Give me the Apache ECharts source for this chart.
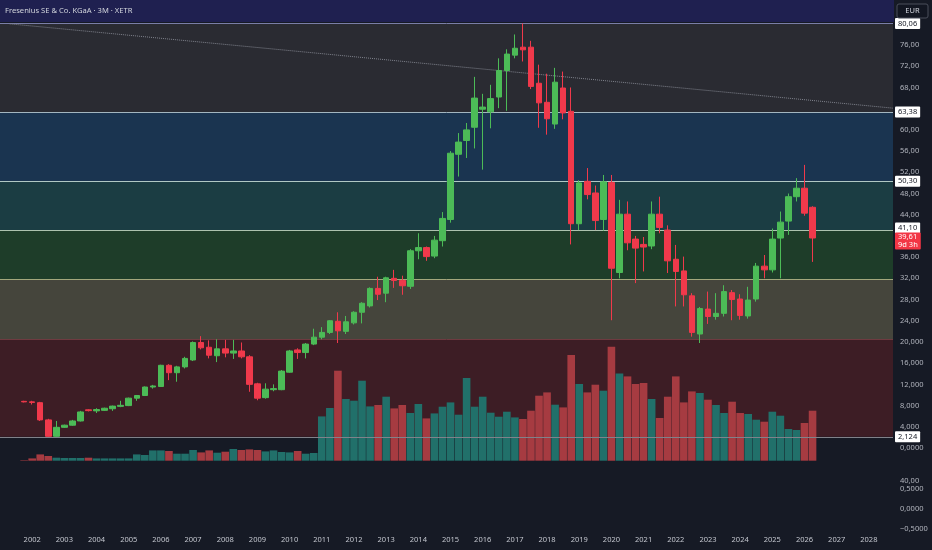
<!DOCTYPE html>
<html><head><meta charset="utf-8">
<script src="https://cdn.jsdelivr.net/npm/echarts@6/dist/echarts.min.js"></script>
<style>html,body{margin:0;padding:0;background:#161a25;}#c{width:932px;height:550px;}</style>
</head><body><div id="c"></div>
<script>
const quarters = ['2001Q4',
'2002Q1','2002Q2','2002Q3','2002Q4','2003Q1','2003Q2','2003Q3','2003Q4',
'2004Q1','2004Q2','2004Q3','2004Q4','2005Q1','2005Q2','2005Q3','2005Q4',
'2006Q1','2006Q2','2006Q3','2006Q4','2007Q1','2007Q2','2007Q3','2007Q4',
'2008Q1','2008Q2','2008Q3','2008Q4','2009Q1','2009Q2','2009Q3','2009Q4',
'2010Q1','2010Q2','2010Q3','2010Q4','2011Q1','2011Q2','2011Q3','2011Q4',
'2012Q1','2012Q2','2012Q3','2012Q4','2013Q1','2013Q2','2013Q3','2013Q4',
'2014Q1','2014Q2','2014Q3','2014Q4','2015Q1','2015Q2','2015Q3','2015Q4',
'2016Q1','2016Q2','2016Q3','2016Q4','2017Q1','2017Q2','2017Q3','2017Q4',
'2018Q1','2018Q2','2018Q3','2018Q4','2019Q1','2019Q2','2019Q3','2019Q4',
'2020Q1','2020Q2','2020Q3','2020Q4','2021Q1','2021Q2','2021Q3','2021Q4',
'2022Q1','2022Q2','2022Q3','2022Q4','2023Q1','2023Q2','2023Q3','2023Q4',
'2024Q1','2024Q2','2024Q3','2024Q4','2025Q1','2025Q2','2025Q3','2025Q4',
'2026Q1','2026Q2'];
const open = [8.8,
8.7,8.55,5.3,2.2, 3.9,4.3,5.1,7.2,
7.0,7.1,7.4,7.85, 8.0,9.4,9.9,11.5,
11.6,15.6,14.2,15.3, 16.6,19.9,19.0,17.4,
18.7,17.9,18.3,17.2, 12.1,9.5,11.0,11.0,
14.3,18.5,18.0,19.6, 20.9,21.8,23.9,22.0,
23.6,25.6,26.8,30.1, 29.2,32.0,31.6,30.5,
37.2,37.8,36.2,39.1, 43.1,55.4,58.0,60.5,
63.9,63.4,66.2,71.2, 74.1,75.6,75.6,68.8,
65.2,61.1,67.9,63.5, 42.3,50.3,48.1,43.1,
50.1,33.1,44.1,39.4, 38.4,38.1,44.1,41.1,
35.6,33.4,28.7,21.5, 26.2,24.8,25.4,29.3,
28.1,24.9,28.1,34.3, 33.6,39.6,42.8,47.4,
49.0,45.4];
const close = [8.7,
8.6,5.3,2.2,3.9, 4.3,5.1,6.8,7.05,
7.25,7.5,7.9,8.05, 9.4,9.9,11.5,11.7,
15.6,14.2,15.3,16.9, 19.9,18.9,17.5,18.7,
17.9,18.3,17.2,12.0, 9.4,11.1,11.2,14.5,
18.3,18.0,19.6,20.9, 21.8,24.0,22.1,23.8,
25.6,27.3,30.1,29.0, 32.1,31.6,30.6,37.2,
37.8,36.1,39.2,43.3, 55.6,57.7,60.0,66.0,
64.3,65.9,71.2,74.3, 75.4,75.1,68.2,65.1,
62.1,69.0,63.2,42.3, 50.0,47.8,42.9,50.2,
33.9,44.1,38.7,37.7, 37.9,44.1,41.6,35.3,
33.3,28.9,21.8,26.3, 24.8,25.4,29.5,28.0,
25.0,27.9,34.3,33.6, 39.4,42.6,47.4,49.0,
44.3,39.61];
const low = [8.6,
8.2,5.1,2.124,2.124, 3.8,4.2,5.0,6.9,
6.6,7.0,7.0,7.7, 7.9,8.9,9.8,11.2,
11.5,12.8,12.5,15.0, 16.4,18.6,16.9,16.2,
17.1,16.8,16.9,10.6, 9.0,9.3,10.7,10.9,
14.2,16.8,16.9,19.4, 20.5,21.5,19.8,21.5,
23.3,23.5,26.5,27.9, 27.5,30.2,28.9,30.0,
35.6,35.3,35.8,38.0, 42.5,51.2,54.7,56.5,
52.5,60.3,64.1,63.6, 73.5,72.9,67.7,60.4,
59.1,60.2,62.0,38.4, 41.1,46.9,41.1,41.0,
24.1,32.0,37.3,31.1, 33.3,37.5,40.5,33.0,
26.7,26.7,21.0,19.8, 23.4,24.2,24.8,24.1,
24.2,24.4,27.6,32.0, 33.1,32.0,40.2,46.5,
43.8,35.1];
const high = [8.9,
8.9,8.7,5.5,5.1, 4.4,5.3,7.0,7.3,
7.5,7.6,8.0,8.9, 9.5,10.0,11.6,11.9,
15.7,15.8,15.5,17.2, 20.1,21.1,20.3,20.5,
20.4,20.4,19.9,17.5, 12.3,12.2,12.0,14.7,
18.5,18.8,19.8,22.5, 22.8,24.1,25.6,24.9,
25.8,27.5,30.3,32.3, 32.3,33.6,32.5,37.5,
40.5,38.0,40.0,44.5, 56.0,59.4,61.3,70.0,
66.8,68.5,73.5,75.2, 78.0,80.06,76.8,72.3,
70.6,71.7,71.0,68.0, 50.5,52.8,49.5,51.5,
51.5,46.8,46.5,40.0, 39.8,46.5,47.4,42.0,
38.3,36.1,29.2,26.6, 29.5,29.2,30.7,29.8,
29.0,30.4,34.9,36.4, 41.4,44.6,48.0,50.9,
53.4,45.6];
const volume = [0.5,
2.3,6.3,4.7,3.0, 2.7,2.7,2.7,3.0,
2.3,2.3,2.3,2.3, 2.3,6.3,5.7,10.3,
10.3,9.7,7.0,7.0, 10.7,8.3,10.3,8.0,
9.0,11.7,10.7,11.3, 10.7,9.3,10.3,8.7,
8.3,9.7,7.0,7.7, 44.3,52.7,90,61.7,
60,80,54.3,55.7, 64,52.3,55.7,47.7,
56.7,42.3,47.3,54, 58.3,46,82.7,54,
64,48,44,49, 43.3,41.7,50,65,
68.3,56,53.3,105.7, 76.7,68.3,76,70,
114,87.3,84.3,76.7, 77.7,61.7,42.7,64,
84.3,58.3,69.3,67.7, 61,55.7,47.7,59,
47.7,46.7,41,39, 49,45,31.7,30.7,
37.7,50];
const yearLabels = ['2002','2003','2004','2005','2006','2007','2008','2009','2010','2011','2012','2013','2014','2015','2016','2017','2018','2019','2020','2021','2022','2023','2024','2025','2026','2027','2028'];
const fibLevels = [80.06, 63.38, 50.30, 41.10, 31.89, 20.52, 2.124];
const fibLabels = ['80,06','63,38','50,30','41,10', '', '', '2,124'];
const lastPrice = 39.61;
const lastLabel = '39,61\n9d 3h';
const trendLine = [[-2.8, 80.0], [107, 64.1]];
const lowerPaneLabels = ['−0,5000','0,0000','0,5000'];

const zoneColors = ['#2a2b32','#1a3450','#1b3d43','#1e3d29','#45453c','#3d1d25'];
const lineColors = ['#7a7ea8','#a3b6c0','#b0c8c4','#adc2ae','#a3a77c','#6e3a40','#80828a'];
const UP = '#4cbb57', DOWN = '#f0394b';
const VUP = '#21706a', VDOWN = '#a63b41';

function qIndex(q){ const y = +q.slice(0,4), n = +q.slice(5); return (y-2002)*4 + (n-1); }

const candleData = quarters.map((q,k)=>[qIndex(q), open[k], close[k], low[k], high[k]]);
const volData = quarters.map((q,k)=>[qIndex(q), volume[k]]);

const zones = [];
for (let i=0;i<fibLevels.length-1;i++){
  zones.push([{yAxis: fibLevels[i], itemStyle:{color: zoneColors[i]}}, {yAxis: fibLevels[i+1]}]);
}
const badge = {show:true, position:'end', distance:2, backgroundColor:'#ffffff', color:'#131722', fontSize:7.5, fontFamily:'Noto Sans', padding:[2,3,1,3], borderRadius:1};
const lines = fibLevels.map((v,i)=>({
  yAxis: v,
  lineStyle:{color: lineColors[i], width:1, type:'solid'},
  label: fibLabels[i] ? Object.assign({}, badge, {formatter: fibLabels[i], offset: i===3?[0,-2]:[0,0]}) : {show:false}
}));
lines.push({yAxis: lastPrice, lineStyle:{color:'rgba(0,0,0,0)', width:0},
  label: Object.assign({}, badge, {formatter: lastLabel, backgroundColor:'#f23645', color:'#ffffff', lineHeight:8, padding:[1,3,0,3], offset:[0,3]})});
lines.push([{coord: trendLine[0], lineStyle:{type:'dotted', color:'#80838d', width:1}, label:{show:false}}, {coord: trendLine[1]}]);

const axisFont = {color:'#b2b5be', fontSize:7.5, fontFamily:'Noto Sans'};
function fmtPrice(v){
  if (v < 0 || v > 78 || v === 64 || v === 40) return '';
  if (v === 0) return '0,0000';
  if (v <= 20) return v.toFixed(3).replace('.', ',');
  return v.toFixed(2).replace('.', ',');
}

const chart = echarts.init(document.getElementById('c'), null, {renderer:'canvas'});
chart.setOption({
  animation:false,
  backgroundColor:'#161a25',
  grid:[
    {left:0, right:39, top:22, height:447.2},
    {left:0, right:39, top:340.7, height:120},
    {left:0, right:39, top:469.6, height:59.1}
  ],
  xAxis:[
    {gridIndex:0, type:'value', min:-4, max:107, show:false},
    {gridIndex:1, type:'value', min:-4, max:107, show:false},
    {gridIndex:2, type:'value', min:-4, max:107, interval:4,
     axisLine:{show:false}, axisTick:{show:false}, splitLine:{show:false},
     axisLabel:Object.assign({}, axisFont, {color:'#c3c6ce', margin:7, showMinLabel:false, showMaxLabel:false,
       formatter:v=>{ const k=v/4; return (Number.isInteger(k) && k>=0 && k<yearLabels.length) ? yearLabels[k] : ''; }})}
  ],
  yAxis:[
    {gridIndex:0, type:'value', position:'right', min:-4, max:80.35, interval:4,
     axisLine:{show:false}, axisTick:{show:false}, splitLine:{show:false},
     axisLabel:Object.assign({}, axisFont, {margin:7, formatter:fmtPrice})},
    {gridIndex:1, type:'value', min:0, max:120, show:false},
    {gridIndex:2, type:'value', position:'right', min:-0.5, max:1.0, interval:0.5,
     axisLine:{show:false}, axisTick:{show:false}, splitLine:{show:false},
     axisLabel:Object.assign({}, axisFont, {margin:7, formatter:v=>{ const k=Math.round(v*2)+1; return (k>=0 && k<lowerPaneLabels.length) ? lowerPaneLabels[k] : ''; }})}
  ],
  series:[
    {type:'bar', xAxisIndex:1, yAxisIndex:1, data:volData, barWidth:7.6, z:2,
     itemStyle:{color:p=>close[p.dataIndex] < open[p.dataIndex] ? VDOWN : VUP}},
    {type:'candlestick', xAxisIndex:0, yAxisIndex:0, data:candleData, barWidth:6, z:4,
     itemStyle:{color:UP, color0:DOWN, borderColor:UP, borderColor0:DOWN, borderWidth:1},
     markArea:{silent:true, z:1, data:zones},
     markLine:{silent:true, z:3, symbol:['none','none'], data:lines}
    }
  ],
  graphic:[
    {type:'rect', shape:{x:0, y:0, width:894, height:22}, style:{fill:'#1f2050'}, z:0},
    {type:'text', x:5, y:11, style:{text:'Fresenius SE & Co. KGaA · 3M · XETR', fill:'#d1d4dc', fontSize:7.6, fontFamily:'Noto Sans', verticalAlign:'middle'}, z:1},
    {type:'rect', shape:{x:897, y:4, width:31, height:14, r:2}, style:{fill:'#131722', stroke:'#4a4e5a', lineWidth:1}, z:100},
    {type:'text', x:912.5, y:11, style:{text:'EUR', fill:'#d1d4dc', fontSize:7.5, fontFamily:'Noto Sans', align:'center', verticalAlign:'middle'}, z:101},
    {type:'text', x:900, y:480.7, style:{text:'40,00', fill:'#b2b5be', fontSize:7.5, fontFamily:'Noto Sans', verticalAlign:'middle'}, z:10}
  ]
});
</script></body></html>
